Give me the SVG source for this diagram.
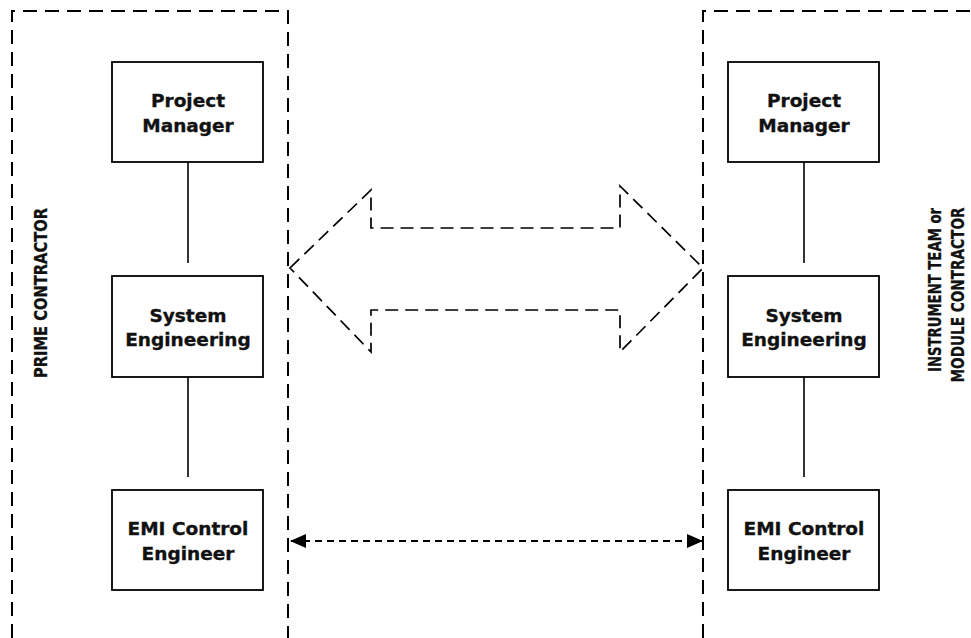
<svg xmlns="http://www.w3.org/2000/svg" width="971" height="638" viewBox="0 0 971 638">
  <defs>
    <style>
      .frame { fill: none; stroke: #000; stroke-width: 2; stroke-dasharray: 14 8; }
      .box { fill: #fff; stroke: #000; stroke-width: 1.8; }
      .link { stroke: #000; stroke-width: 1.6; fill: none; }
      .lbl { font-family: "DejaVu Sans", "Liberation Sans", sans-serif; font-weight: bold; font-size: 18.5px; fill: #111; stroke: #111; stroke-width: 0.35; text-anchor: middle; }
      .side { font-family: "DejaVu Sans", "Liberation Sans", sans-serif; font-weight: bold; font-size: 17px; fill: #111; stroke: #111; stroke-width: 0.3; text-anchor: middle; }
      .bigarrow { fill: none; stroke: #000; stroke-width: 1.7; stroke-dasharray: 13 7; }
      .dotted { stroke: #000; stroke-width: 2.2; stroke-dasharray: 7 5; fill: none; }
    </style>
    <marker id="head" viewBox="0 0 16 14" refX="15" refY="7" markerWidth="16" markerHeight="14" markerUnits="userSpaceOnUse" orient="auto-start-reverse">
      <path d="M0,0 L16,7 L0,14 Z" fill="#000"/>
    </marker>
  </defs>
  <rect width="971" height="638" fill="#fff"/>

  <!-- organisation frames -->
  <g id="prime-frame">
    <path class="frame" d="M12,638 V11 H288 V638"/>
    <text class="side" transform="translate(47,293) rotate(-90)" textLength="170" lengthAdjust="spacingAndGlyphs">PRIME CONTRACTOR</text>
  </g>
  <g id="instrument-frame">
    <path class="frame" d="M703,638 V11 H971"/>
    <text class="side" transform="translate(941,290) rotate(-90)" textLength="164" lengthAdjust="spacingAndGlyphs">INSTRUMENT TEAM or</text>
    <text class="side" transform="translate(964,295) rotate(-90)" textLength="175" lengthAdjust="spacingAndGlyphs">MODULE CONTRACTOR</text>
  </g>

  <!-- connectors -->
  <g id="connectors">
    <line class="link" x1="188" y1="162" x2="188" y2="263"/>
    <line class="link" x1="188" y1="377" x2="188" y2="477"/>
    <line class="link" x1="804" y1="162" x2="804" y2="263"/>
    <line class="link" x1="804" y1="377" x2="804" y2="477"/>
    <polygon class="bigarrow" points="290,268 371,190 371,228 620,228 620,186 703,268 620,352 620,310 371,310 371,352"/>
    <line class="dotted" x1="291" y1="541" x2="702" y2="541" marker-start="url(#head)" marker-end="url(#head)"/>
  </g>

  <!-- prime contractor nodes -->
  <g id="pm-left">
    <rect class="box" x="112" y="62" width="151" height="100"/>
    <text class="lbl" x="188" y="107">Project</text>
    <text class="lbl" x="188" y="132">Manager</text>
  </g>
  <g id="se-left">
    <rect class="box" x="112" y="276" width="151" height="101"/>
    <text class="lbl" x="188" y="322">System</text>
    <text class="lbl" x="188" y="346">Engineering</text>
  </g>
  <g id="emi-left">
    <rect class="box" x="112" y="490" width="151" height="100"/>
    <text class="lbl" x="188" y="535">EMI Control</text>
    <text class="lbl" x="188" y="560">Engineer</text>
  </g>

  <!-- instrument team nodes -->
  <g id="pm-right">
    <rect class="box" x="728" y="62" width="151" height="100"/>
    <text class="lbl" x="804" y="107">Project</text>
    <text class="lbl" x="804" y="132">Manager</text>
  </g>
  <g id="se-right">
    <rect class="box" x="728" y="276" width="151" height="101"/>
    <text class="lbl" x="804" y="322">System</text>
    <text class="lbl" x="804" y="346">Engineering</text>
  </g>
  <g id="emi-right">
    <rect class="box" x="728" y="490" width="151" height="100"/>
    <text class="lbl" x="804" y="535">EMI Control</text>
    <text class="lbl" x="804" y="560">Engineer</text>
  </g>
</svg>
